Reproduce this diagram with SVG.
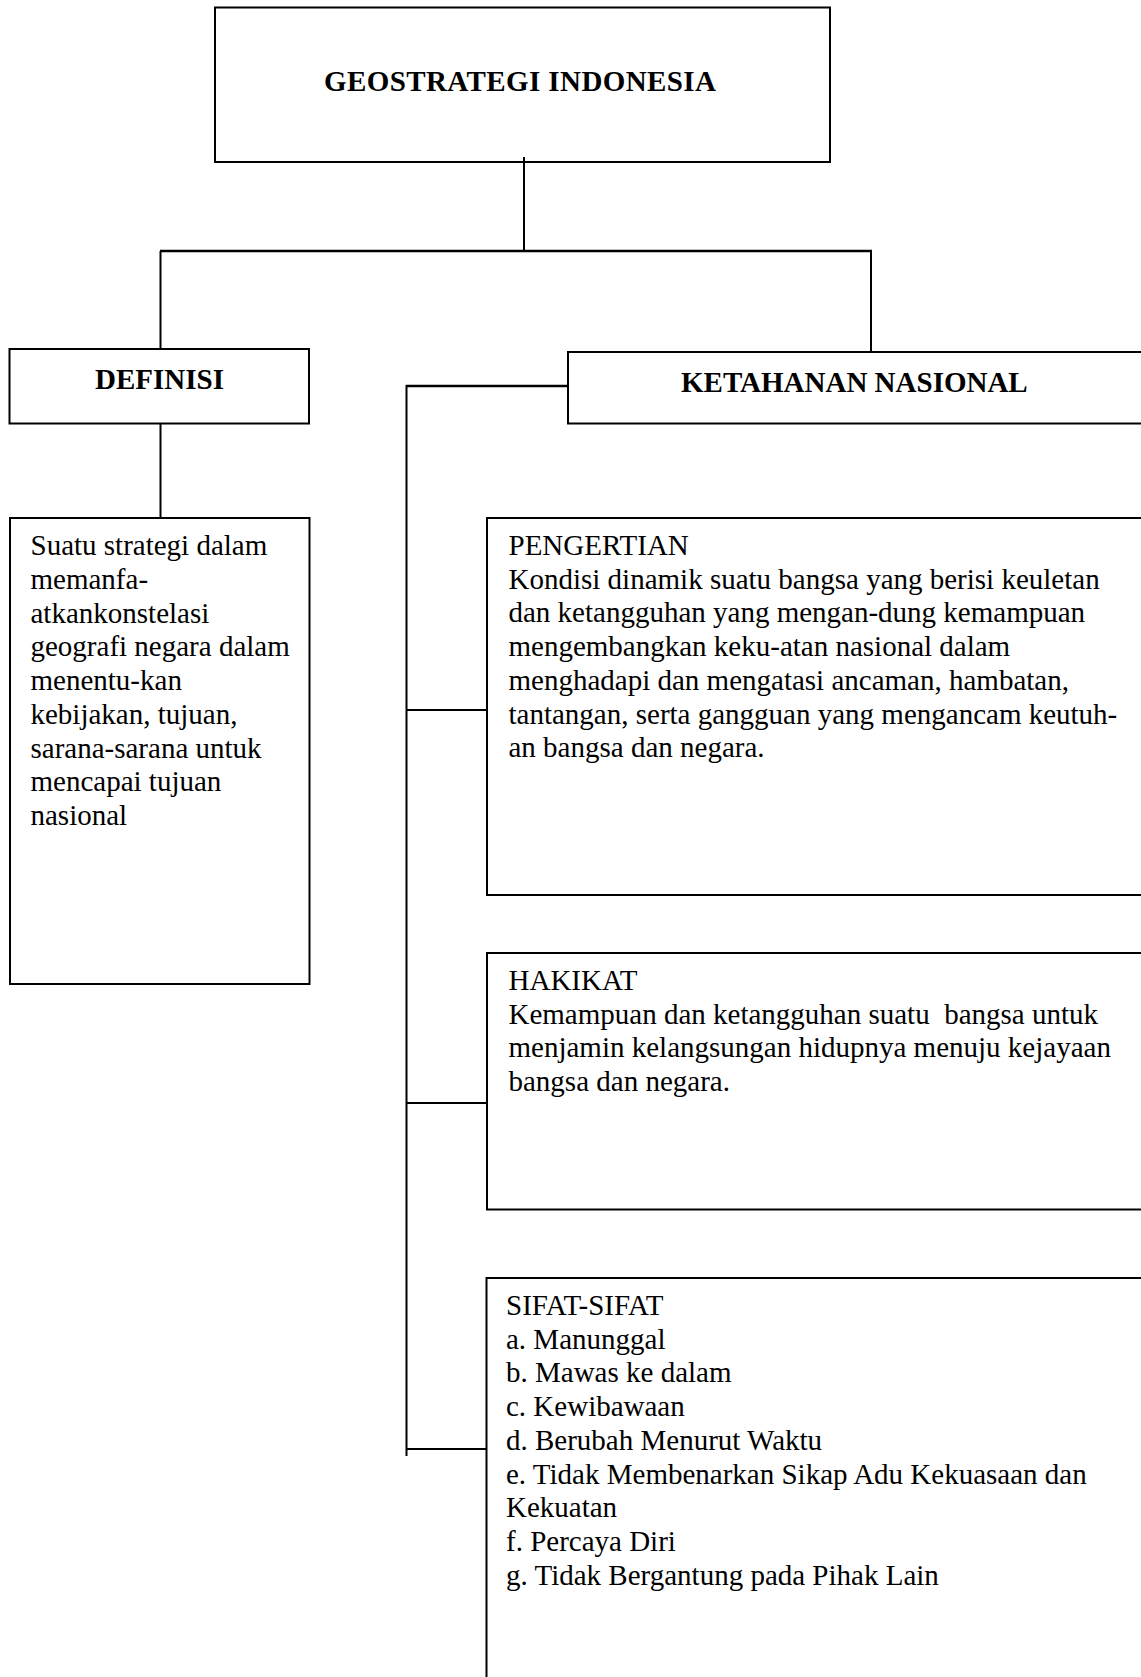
<svg xmlns="http://www.w3.org/2000/svg" width="1141" height="1677" viewBox="0 0 1141 1677">
<style>
.box{fill:#fff;stroke:#000;stroke-width:2}
.ln{stroke:#000;stroke-width:2;fill:none}
.t{font-family:"Liberation Serif","Times New Roman",serif;font-size:29px;fill:#000;white-space:pre}
.b{font-weight:bold}
</style>
<rect width="1141" height="1677" fill="#fff"/>
<g id="node-geostrategi">
<rect class="box" x="215" y="7.5" width="615" height="154.5"/>
<text class="t b" x="324" y="91" textLength="392" lengthAdjust="spacing">GEOSTRATEGI INDONESIA</text>
</g>
<g id="node-definisi">
<rect class="box" x="9.5" y="349" width="299.5" height="74.5"/>
<text class="t b" x="95" y="388.5">DEFINISI</text>
</g>
<g id="node-ketahanan">
<rect class="box" x="568" y="352" width="580" height="71.5"/>
<text class="t b" x="681" y="392">KETAHANAN NASIONAL</text>
</g>
<g id="node-definisi-isi">
<rect class="box" x="10" y="518" width="299.5" height="466"/>
<text class="t" x="30.5" y="555">Suatu strategi dalam</text>
<text class="t" x="30.5" y="588.8">memanfa-</text>
<text class="t" x="30.5" y="622.5">atkankonstelasi</text>
<text class="t" x="30.5" y="656.3">geografi negara dalam</text>
<text class="t" x="30.5" y="690">menentu-kan</text>
<text class="t" x="30.5" y="723.8">kebijakan, tujuan,</text>
<text class="t" x="30.5" y="757.5">sarana-sarana untuk</text>
<text class="t" x="30.5" y="791.3">mencapai tujuan</text>
<text class="t" x="30.5" y="825">nasional</text>
</g>
<g id="node-pengertian">
<rect class="box" x="487" y="518" width="660" height="377"/>
<text class="t" x="508.5" y="555">PENGERTIAN</text>
<text class="t" x="508.5" y="588.7">Kondisi dinamik suatu bangsa yang berisi keuletan</text>
<text class="t" x="508.5" y="622.4">dan ketangguhan yang mengan-dung kemampuan</text>
<text class="t" x="508.5" y="656.1">mengembangkan keku-atan nasional dalam</text>
<text class="t" x="508.5" y="689.8">menghadapi dan mengatasi ancaman, hambatan,</text>
<text class="t" x="508.5" y="723.5">tantangan, serta gangguan yang mengancam keutuh-</text>
<text class="t" x="508.5" y="757.2">an bangsa dan negara.</text>
</g>
<g id="node-hakikat">
<rect class="box" x="487" y="953" width="660" height="256.5"/>
<text class="t" x="508.5" y="990">HAKIKAT</text>
<text class="t" x="508.5" y="1023.7">Kemampuan dan ketangguhan suatu  bangsa untuk</text>
<text class="t" x="508.5" y="1057.4">menjamin kelangsungan hidupnya menuju kejayaan</text>
<text class="t" x="508.5" y="1091.1">bangsa dan negara.</text>
</g>
<g id="node-sifat">
<rect class="box" x="486.5" y="1278" width="660" height="410"/>
<text class="t" x="506" y="1315">SIFAT-SIFAT</text>
<text class="t" x="506" y="1348.7">a. Manunggal</text>
<text class="t" x="506" y="1382.4">b. Mawas ke dalam</text>
<text class="t" x="506" y="1416.1">c. Kewibawaan</text>
<text class="t" x="506" y="1449.8">d. Berubah Menurut Waktu</text>
<text class="t" x="506" y="1483.5">e. Tidak Membenarkan Sikap Adu Kekuasaan dan</text>
<text class="t" x="506" y="1517.2">Kekuatan</text>
<text class="t" x="506" y="1550.9">f. Percaya Diri</text>
<text class="t" x="506" y="1584.6">g. Tidak Bergantung pada Pihak Lain</text>
</g>
<g id="connectors">
<line class="ln" x1="524" y1="157" x2="524" y2="251"/>
<line class="ln" x1="160" y1="251" x2="872" y2="251" style="stroke-width:2.5"/>
<line class="ln" x1="160.5" y1="251" x2="160.5" y2="349"/>
<line class="ln" x1="871" y1="251" x2="871" y2="352"/>
<line class="ln" x1="160.5" y1="423.5" x2="160.5" y2="518"/>
<line class="ln" x1="406" y1="386" x2="568" y2="386" style="stroke-width:2.5"/>
<line class="ln" x1="406.5" y1="385" x2="406.5" y2="1456"/>
<line class="ln" x1="406" y1="710" x2="487" y2="710"/>
<line class="ln" x1="406" y1="1103" x2="487" y2="1103"/>
<line class="ln" x1="406" y1="1449" x2="486.5" y2="1449"/>
</g>
</svg>
